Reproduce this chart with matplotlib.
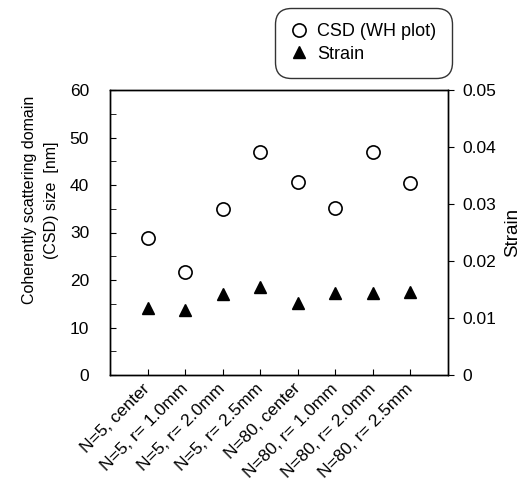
import matplotlib
matplotlib.use("Agg")
import matplotlib.pyplot as plt
from matplotlib.ticker import MultipleLocator

plt.rcParams['font.family'] = ['Liberation Sans', 'DejaVu Sans']

samples = ["N=5, center", "N=5, r= 1.0mm", "N=5, r= 2.0mm", "N=5, r= 2.5mm",
           "N=80, center", "N=80, r= 1.0mm", "N=80, r= 2.0mm", "N=80, r= 2.5mm"]
csd_size = [28.8, 21.6, 34.9, 46.9, 40.6, 35.2, 47.0, 40.4]
strain = [0.0117, 0.0114, 0.0142, 0.0154, 0.0127, 0.0144, 0.0143, 0.0146]
strain_ticks = [0, 0.01, 0.02, 0.03, 0.04, 0.05]
strain_labels = ["0", "0.01", "0.02", "0.03", "0.04", "0.05"]

positions = list(range(1, len(samples) + 1))

fig = plt.figure(figsize=(5.27, 4.79), dpi=100)
ax = fig.add_axes([110 / 527, 1 - 375 / 479, 338 / 527, 285 / 479])
ax2 = ax.twinx()

h1, = ax.plot(positions, csd_size, "o", ms=9.5, mfc="white", mec="black",
              mew=1.2, linestyle="none")
h2, = ax2.plot(positions, strain, "^", ms=8.5, color="black",
               linestyle="none")

ax.set_xlim(0, 9)
ax.set_ylim(0, 60)
ax2.set_ylim(0, 0.05)
ax.yaxis.set_major_locator(MultipleLocator(10))
ax.yaxis.set_minor_locator(MultipleLocator(5))
ax2.set_yticks(strain_ticks)
ax2.set_yticklabels(strain_labels)

ax.set_xticks(positions)
ax.set_xticklabels(samples, rotation=45, ha="right", va="center",
                   rotation_mode="anchor", fontsize=12.5)
ax.tick_params(axis="x", direction="in", length=4, pad=8)
ax.tick_params(axis="y", which="both", direction="in", length=4,
               labelsize=12.5, pad=15)
ax2.tick_params(axis="y", direction="out", length=4, labelsize=12.5, pad=6)

ax.set_ylabel("Coherently scattering domain\n(CSD) size  [nm]", fontsize=11.5,
              linespacing=1.55)
ax.yaxis.set_label_coords(-0.152, 0.614)
ax2.set_ylabel("Strain", fontsize=13.5, labelpad=6)

for a in (ax, ax2):
    for s in a.spines.values():
        s.set_linewidth(1.0)

leg = fig.legend([h1, h2], ["CSD (WH plot)", "Strain"],
                 loc="upper left", bbox_to_anchor=(275 / 527, 1 - 8 / 479),
                 frameon=True, fancybox=True, edgecolor="black",
                 fontsize=13, handletextpad=0.5, borderpad=0.85,
                 labelspacing=0.3, handlelength=1.0, borderaxespad=0)
frame = leg.get_frame()
frame.set_linewidth(1.0)
frame.set_boxstyle("round", pad=0, rounding_size=0.9)

fig.savefig("out.png", dpi=100)
